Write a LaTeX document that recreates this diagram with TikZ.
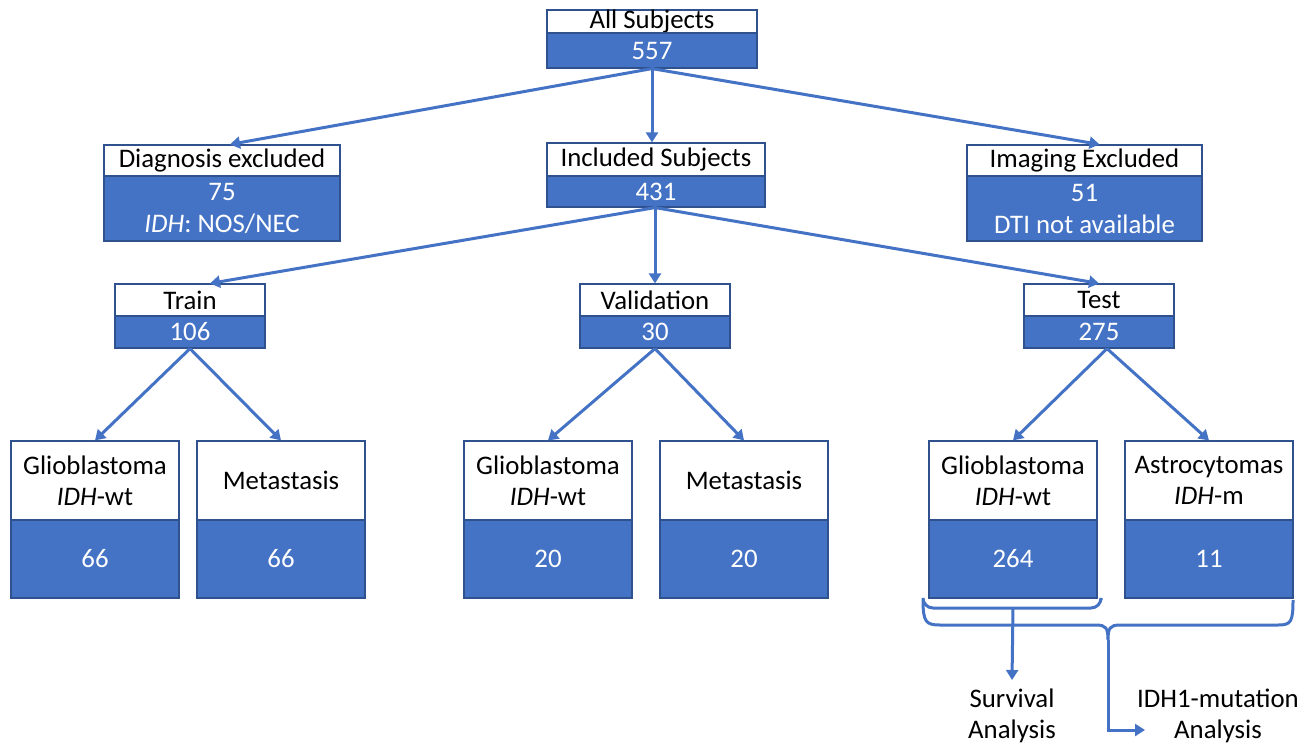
\documentclass[tikz,border=0pt]{standalone}
\usepackage{fontspec}
\setmainfont{Carlito}
\usepackage{xcolor}
\usetikzlibrary{arrows.meta,positioning,calc}

\definecolor{boxblue}{HTML}{4472C4}
\definecolor{boxline}{HTML}{2F528F}

\tikzset{
    head/.style={draw=boxline, fill=white, line width=0.6pt, inner sep=0pt, align=center,
        font=\fontsize{13.4}{15.5}\selectfont},
    val/.style={draw=boxline, fill=boxblue, text=white, line width=0.6pt, inner sep=0pt, align=center,
        font=\fontsize{13.4}{16}\selectfont},
    arr/.style={draw=boxblue, line width=1.5pt, -{Triangle[length=5pt,width=6pt]}},
    brace/.style={draw=boxblue, line width=1.5pt},
    note/.style={align=center, font=\fontsize{13.4}{15.5}\selectfont}
}

\begin{document}
\begin{tikzpicture}[x=0.5pt, y=-0.5pt]
    \useasboundingbox (0,0) rectangle (1316,745);

    % Top level
    \node[head, minimum width=105pt, minimum height=11.5pt] (allh) at (652,21.5) {All Subjects};
    \node[val, minimum width=105pt, minimum height=17.5pt] (alln) at (652,50.5) {557};

    % Second level
    \node[head, minimum width=118pt, minimum height=15.5pt] (diagh) at (222,160.5) {Diagnosis excluded};
    \node[val, minimum width=118pt, minimum height=32.5pt] (diagn) at (222,208.5) {75\\\textit{IDH}: NOS/NEC};

    \node[head, minimum width=109pt, minimum height=16.5pt] (inclh) at (656,159.5) {Included Subjects};
    \node[val, minimum width=109pt, minimum height=15.5pt] (incln) at (656,191.5) {431};

    \node[head, minimum width=117.5pt, minimum height=15.5pt] (imgh) at (1084.5,160.5) {Imaging Excluded};
    \node[val, minimum width=117.5pt, minimum height=32.5pt] (imgn) at (1084.5,208.5) {51\\DTI not available};

    % Splits
    \foreach \n/\cx/\t/\v in {train/190/Train/106, valid/655/Validation/30, test/1099/Test/275} {
        \node[head, minimum width=75pt, minimum height=16pt] (\n h) at (\cx,300) {\t};
        \node[val, minimum width=75pt, minimum height=16pt] (\n n) at (\cx,332) {\v};
    }

    % Classes
    \foreach \n/\cx/\t/\v in {
        gla/95/{Glioblastoma\\\textit{IDH}-wt}/66,
        meta/281/Metastasis/66,
        glb/548/{Glioblastoma\\\textit{IDH}-wt}/20,
        metb/744/Metastasis/20,
        glc/1013/{Glioblastoma\\\textit{IDH}-wt}/264,
        astro/1209/{Astrocytomas\\\textit{IDH}-m}/11} {
        \node[head, minimum width=84pt, minimum height=39.5pt] (\n h) at (\cx,480.5) {\t};
        \node[val, minimum width=84pt, minimum height=39pt] (\n n) at (\cx,559) {\v};
    }

    % Arrows
    \draw[arr] (alln.south) -- ($(diagh.north)+(8,0)$);
    \draw[arr] (alln.south) -- (inclh.north -| alln.south);
    \draw[arr] (alln.south) -- ($(imgh.north)+(15,0)$);

    \draw[arr] ($(incln.south)+(-1,0)$) -- ($(trainh.north)+(20,0)$);
    \draw[arr] ($(incln.south)+(-1,0)$) -- (validh.north);
    \draw[arr] ($(incln.south)+(-1,0)$) -- (testh.north);

    \draw[arr] (trainn.south) -- (glah.north);
    \draw[arr] (trainn.south) -- (metah.north);
    \draw[arr] (validn.south) -- (glbh.north);
    \draw[arr] (validn.south) -- (metbh.north);
    \draw[arr] ($(testn.south)+(8,0)$) -- (glch.north);
    \draw[arr] ($(testn.south)+(8,0)$) -- (astroh.north);

    % Analyses
    \node[note] (surv) at (1012,716) {Survival\\Analysis};
    \node[note] (idh) at (1218,716) {IDH1-mutation\\Analysis};

    % Braces
    \coordinate (smalltip) at (1013,608);
    \coordinate (bigtip) at (1108,640);
    \coordinate (bigturn) at (1108,730);
    \draw[brace, rounded corners=5] (923,600) -- (923,608) -- (1101,608) -- (1101,600);
    \draw[brace] (923,600) .. controls (923,622) and (926,625) .. (940,625) -- (1096,625)
        .. controls (1106,625) and (1108,628) .. (bigtip)
        .. controls (1108,628) and (1110,625) .. (1120,625) -- (1278,625)
        .. controls (1291,625) and (1293,622) .. (1293,600);
    \draw[arr] (smalltip) -- ($(surv.north)+(0,-2)$);
    \draw[arr] (bigtip) -- (bigturn) -- ($(bigturn)+(37,0)$);
\end{tikzpicture}
\end{document}
